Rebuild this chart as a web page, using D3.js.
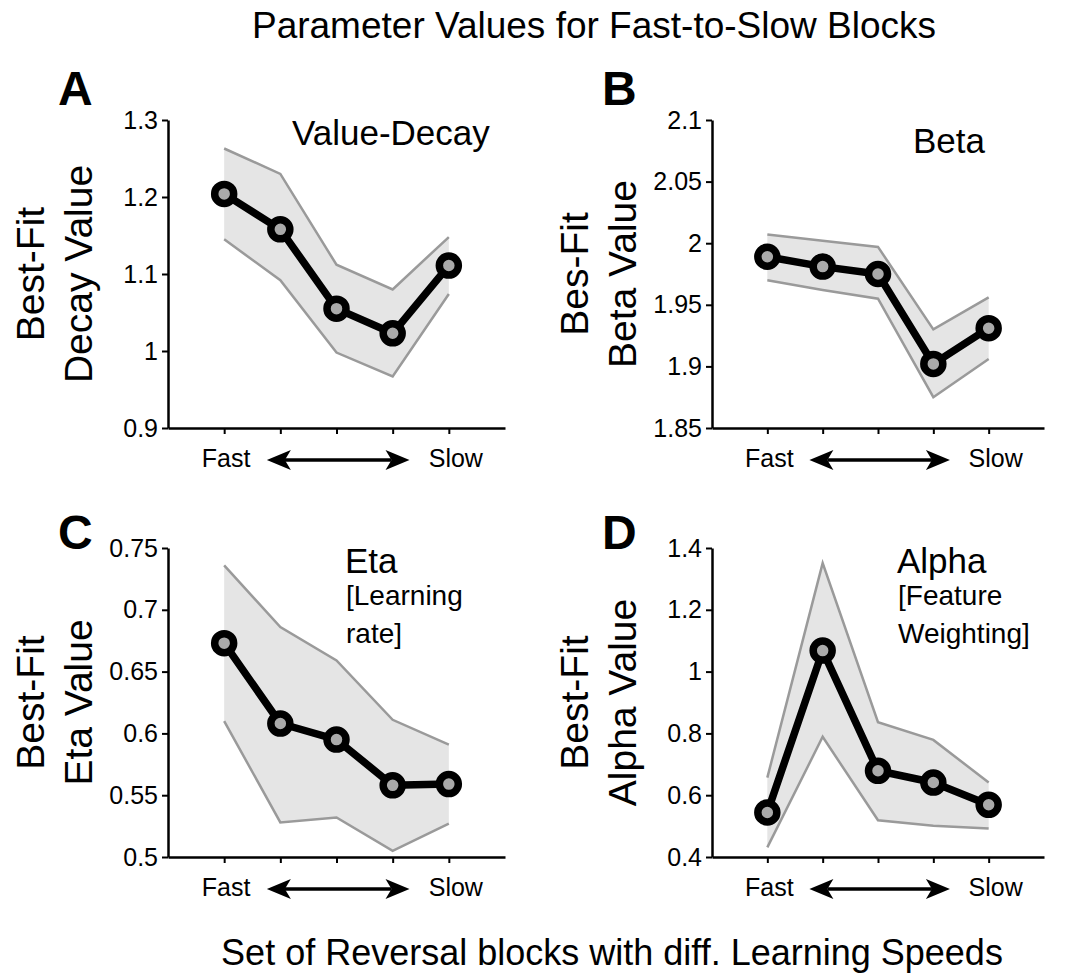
<!DOCTYPE html>
<html>
<head>
<meta charset="utf-8">
<script src="https://cdn.jsdelivr.net/npm/d3@7"></script>
<style>
  body { margin: 0; background: #fff; }
  text { font-family: "Liberation Sans", Arial, sans-serif; fill: #000; }
</style>
</head>
<body>
<div id="chart"></div>
<script>
// data
const blocks = [1, 2, 3, 4, 5];

const decayMean  = [1.204, 1.158, 1.055, 1.023, 1.111];
const decayUpper = [1.263, 1.230, 1.112, 1.080, 1.148];
const decayLower = [1.145, 1.092, 0.998, 0.967, 1.074];
const decayTicks = [0.9, 1, 1.1, 1.2, 1.3];

const betaMean  = [1.989, 1.981, 1.975, 1.902, 1.931];
const betaUpper = [2.007, 2.002, 1.997, 1.930, 1.956];
const betaLower = [1.970, 1.962, 1.955, 1.875, 1.906];
const betaTicks = [1.85, 1.9, 1.95, 2, 2.05, 2.1];

const etaMean  = [0.673, 0.608, 0.595, 0.558, 0.559];
const etaUpper = [0.736, 0.686, 0.659, 0.611, 0.591];
const etaLower = [0.610, 0.528, 0.532, 0.505, 0.527];
const etaTicks = [0.5, 0.55, 0.6, 0.65, 0.7, 0.75];

const alphaMean  = [0.544, 1.068, 0.679, 0.641, 0.569];
const alphaUpper = [0.657, 1.351, 0.836, 0.779, 0.641];
const alphaLower = [0.431, 0.789, 0.519, 0.501, 0.492];
const alphaTicks = [0.4, 0.6, 0.8, 1, 1.2, 1.4];

const width = 1067, height = 974;

const svg = d3.select("#chart").append("svg")
  .attr("width", width)
  .attr("height", height)

svg.append("text")
  .attr("x", 594).attr("y", 38)
  .attr("text-anchor", "middle")
  .attr("font-size", 37)
  .text("Parameter Values for Fast-to-Slow Blocks")

svg.append("text")
  .attr("x", 612).attr("y", 965)
  .attr("text-anchor", "middle")
  .attr("font-size", 36)
  .text("Set of Reversal blocks with diff. Learning Speeds")

const panels = [
  { letter: "A", x0: 168, x1: 505, y0: 120, y1: 428, mean: decayMean, upper: decayUpper, lower: decayLower,
    ticks: decayTicks, ylab: ["Best-Fit", "Decay Value"], title: "Value-Decay", sub: [], tx: 124, ty: 25 },
  { letter: "B", x0: 712, x1: 1044, y0: 120, y1: 428, mean: betaMean, upper: betaUpper, lower: betaLower,
    ticks: betaTicks, ylab: ["Bes-Fit", "Beta Value"], title: "Beta", sub: [], tx: 201, ty: 33 },
  { letter: "C", x0: 168, x1: 505, y0: 548, y1: 857, mean: etaMean, upper: etaUpper, lower: etaLower,
    ticks: etaTicks, ylab: ["Best-Fit", "Eta Value"], title: "Eta", sub: ["[Learning", "rate]"], tx: 177, ty: 25 },
  { letter: "D", x0: 712, x1: 1044, y0: 548, y1: 857, mean: alphaMean, upper: alphaUpper, lower: alphaLower,
    ticks: alphaTicks, ylab: ["Best-Fit", "Alpha Value"], title: "Alpha", sub: ["[Feature", "Weighting]"], tx: 185, ty: 25 }
];

panels.forEach(drawPanel);

function drawPanel(p) {
  const g = svg.append("g");

  const xScale = d3.scaleLinear().domain([0, 6]).range([p.x0, p.x1]);
  const yScale = d3.scaleLinear()
    .domain([p.ticks[0], p.ticks[p.ticks.length - 1]])
    .range([p.y1, p.y0]);

  // shaded band
  const area = d3.area()
    .x((d, i) => xScale(blocks[i]))
    .y0((d, i) => yScale(p.lower[i]))
    .y1((d, i) => yScale(p.upper[i]));

  g.append("path")
    .datum(blocks)
    .attr("d", area)
    .attr("fill", "#e5e5e5")

  const edge = vals => d3.line()
    .x((d, i) => xScale(blocks[i]))
    .y((d, i) => yScale(vals[i]))(blocks);

  [p.upper, p.lower].forEach(vals => {
    g.append("path")
      .attr("d", edge(vals))
      .attr("fill", "none")
      .attr("stroke", "#9a9a9a")
      .attr("stroke-width", 2.5)
  });

  // axes
  const xAxis = d3.axisBottom(xScale)
    .tickValues(blocks)
    .tickFormat("")
    .tickSizeInner(6)
    .tickSizeOuter(0);

  const yAxis = d3.axisLeft(yScale)
    .tickValues(p.ticks)
    .tickFormat(d => String(d))
    .tickSizeInner(6)
    .tickSizeOuter(0)
    .tickPadding(4);

  const xg = g.append("g")
    .attr("transform", `translate(0, ${p.y1})`)
    .call(xAxis);
  const yg = g.append("g")
    .attr("transform", `translate(${p.x0}, 0)`)
    .call(yAxis);

  [xg, yg].forEach(ax => {
    ax.select(".domain").attr("stroke", "#000").attr("stroke-width", 2.5);
    ax.selectAll(".tick line").attr("stroke", "#000").attr("stroke-width", 2);
    ax.selectAll(".tick text")
      .attr("font-size", 25)
      .attr("font-family", "Liberation Sans, Arial, sans-serif")
      .attr("fill", "#000");
  });

  // mean line and markers
  const meanLine = d3.line()
    .x((d, i) => xScale(blocks[i]))
    .y((d, i) => yScale(p.mean[i]));

  g.append("path")
    .datum(blocks)
    .attr("d", meanLine)
    .attr("fill", "none")
    .attr("stroke", "#000")
    .attr("stroke-width", 7.5)
    .attr("stroke-linejoin", "round")

  g.selectAll("circle")
    .data(blocks)
    .join("circle")
    .attr("cx", d => xScale(d))
    .attr("cy", (d, i) => yScale(p.mean[i]))
    .attr("r", 9.5)
    .attr("fill", "#aaa")
    .attr("stroke", "#000")
    .attr("stroke-width", 7.5)

  // panel letter
  g.append("text")
    .attr("x", p.x0 - 110)
    .attr("y", p.letter === "A" || p.letter === "B" ? p.y0 - 15 : p.y0 + 1)
    .attr("font-size", 48)
    .attr("font-weight", "bold")
    .text(p.letter)

  // y label
  const midY = (p.y0 + p.y1) / 2;
  p.ylab.forEach((s, i) => {
    g.append("text")
      .attr("transform", `translate(${p.x0 - 124 + i * 48}, ${midY}) rotate(-90)`)
      .attr("text-anchor", "middle")
      .attr("font-size", 39)
      .text(s)
  });

  // title in plot
  g.append("text")
    .attr("x", p.x0 + p.tx)
    .attr("y", p.y0 + p.ty)
    .attr("font-size", 35)
    .text(p.title)

  p.sub.forEach((s, i) => {
    g.append("text")
      .attr("x", p.x0 + p.tx + 1)
      .attr("y", p.y0 + p.ty + 32 + i * 38)
      .attr("font-size", 28)
      .text(s)
  });

  // Fast <-> Slow
  const ay = p.y1 + 32;
  g.append("text")
    .attr("x", xScale(1) + 2).attr("y", p.y1 + 39)
    .attr("text-anchor", "middle")
    .attr("font-size", 25)
    .text("Fast")
  g.append("text")
    .attr("x", xScale(5) + 7).attr("y", p.y1 + 39)
    .attr("text-anchor", "middle")
    .attr("font-size", 25)
    .text("Slow")

  const ax0 = xScale(1.76), ax1 = xScale(4.3);
  const hl = 24, hw = 10;
  g.append("line")
    .attr("x1", ax0 + hl - 6).attr("x2", ax1 - hl + 6)
    .attr("y1", ay).attr("y2", ay)
    .attr("stroke", "#000")
    .attr("stroke-width", 3.5)
  g.append("path")
    .attr("d", `M${ax0},${ay} L${ax0 + hl},${ay - hw} L${ax0 + hl - 6},${ay} L${ax0 + hl},${ay + hw} Z`)
    .attr("fill", "#000")
  g.append("path")
    .attr("d", `M${ax1},${ay} L${ax1 - hl},${ay - hw} L${ax1 - hl + 6},${ay} L${ax1 - hl},${ay + hw} Z`)
    .attr("fill", "#000")
}
</script>
</body>
</html>
